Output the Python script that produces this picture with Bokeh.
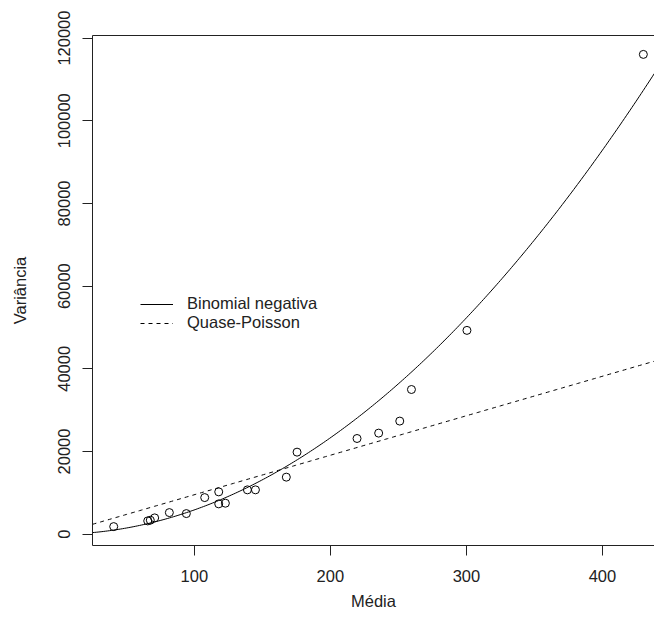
import numpy as np
from bokeh.plotting import figure
from bokeh.models import (Range1d, FixedTicker, LinearAxis, Legend, LegendItem,
                          BasicTickFormatter, ColumnDataSource)
from bokeh.embed import file_html
from bokeh.resources import INLINE

# ---- data ----
media = [40.7, 65.7, 67.6, 70.8, 81.6, 94.1, 107.6, 117.9, 117.9, 122.8,
         139.0, 144.9, 167.6, 175.5, 219.6, 235.5, 251.0, 259.6, 300.4, 430.1]
variancia = [1840, 3220, 3390, 3950, 5230, 4990, 8860, 10240, 7340, 7500,
             10730, 10730, 13800, 19850, 23150, 24450, 27360, 35000, 49300, 116050]

# fitted variance functions (parameters)
nb_k = 1.73        # Binomial negativa: V = mu + mu^2 / k
qp_phi = 95.5      # Quase-Poisson:    V = phi * mu

x_ticks = [100, 200, 300, 400]
y_ticks = [0, 20000, 40000, 60000, 80000, 100000, 120000]
legend_labels = ["Binomial negativa", "Quase-Poisson"]
x_title = "Média"
y_title = "Variância"

FONT = "Liberation Sans"
INK = "#222222"
FS = "16.5px"

x0, x1 = 25.1, 438.3
y0, y1 = -2730, 120620

p = figure(width=654, height=630, output_backend="svg", toolbar_location=None,
           x_range=Range1d(x0, x1), y_range=Range1d(y0, y1),
           min_border_left=92, min_border_right=0, min_border_top=35,
           min_border_bottom=85, background_fill_color="white",
           border_fill_color="white", outline_line_color=None)
p.xgrid.visible = False
p.ygrid.visible = False

mu = np.linspace(x0, x1, 300)
src_nb = ColumnDataSource(dict(x=mu, y=mu + mu ** 2 / nb_k))
src_qp = ColumnDataSource(dict(x=mu, y=qp_phi * mu))

r_nb = p.line("x", "y", source=src_nb, line_color="black", line_width=1)
r_qp = p.line("x", "y", source=src_qp, line_color="black", line_width=1,
              line_dash="4 4")
p.scatter(media, variancia, marker="circle", size=8, fill_color=None,
          line_color="black", line_width=1)

for ax in (p.xaxis[0], p.yaxis[0]):
    ax.axis_line_color = INK
    ax.major_tick_line_color = INK
    ax.major_tick_out = 10
    ax.major_tick_in = 0
    ax.minor_tick_line_color = None
    ax.major_label_text_font = FONT
    ax.major_label_text_font_size = FS
    ax.major_label_text_color = INK
    ax.axis_label_text_font = FONT
    ax.axis_label_text_font_size = FS
    ax.axis_label_text_font_style = "normal"
    ax.axis_label_text_color = INK

p.xaxis[0].ticker = FixedTicker(ticks=x_ticks)
p.xaxis[0].axis_label = x_title
p.xaxis[0].major_label_standoff = 14
p.xaxis[0].axis_label_standoff = 7

p.yaxis[0].ticker = FixedTicker(ticks=y_ticks)
p.yaxis[0].formatter = BasicTickFormatter(use_scientific=False)
p.yaxis[0].major_label_orientation = "vertical"
p.yaxis[0].axis_label = y_title
p.yaxis[0].major_label_standoff = 12
p.yaxis[0].axis_label_standoff = 27

top = LinearAxis(ticker=FixedTicker(ticks=[]), axis_line_color=INK,
                 major_tick_line_color=None, minor_tick_line_color=None,
                 major_label_text_font_size="0px")
p.add_layout(top, "above")

legend = Legend(items=[LegendItem(label=legend_labels[0], renderers=[r_nb]),
                       LegendItem(label=legend_labels[1], renderers=[r_qp])],
                location=(48, 213), border_line_color=None,
                background_fill_alpha=0, padding=0, margin=0, spacing=0,
                glyph_width=33, glyph_height=18, label_height=18,
                label_standoff=14, label_text_font=FONT,
                label_text_font_size=FS, label_text_color=INK)
p.add_layout(legend, "center")

open("out.html", "w").write(file_html(p, INLINE))
